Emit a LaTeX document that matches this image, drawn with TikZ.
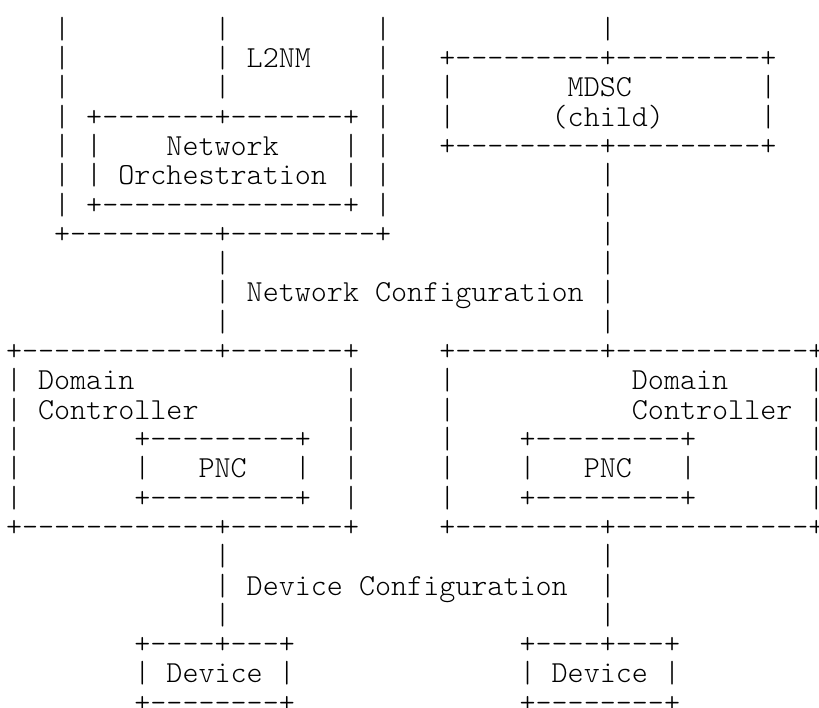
\documentclass[tikz,border=0pt]{standalone}
\usetikzlibrary{positioning}

\tikzset{
  asc/.style={anchor=base west, inner sep=0pt, outer sep=0pt, text depth=0pt,
    font=\ttfamily\fontseries{l}\fontsize{30.57}{29}\selectfont}
}

\begin{document}
\begin{tikzpicture}[x=1pt,y=1pt]
\useasboundingbox (0,0) rectangle (819,707);

\node[asc] (l1)  at (6,668.7) {~~~|~~~~~~~~~|~~~~~~~~~|~~~~~~~~~~~~~|}; %1
\node[asc] (l2)  at (6,639.4) {~~~|~~~~~~~~~|~L2NM~~~~|~~~+---------+---------+}; %2
\node[asc] (l3)  at (6,610.1) {~~~|~~~~~~~~~|~~~~~~~~~|~~~|~~~~~~~MDSC~~~~~~~~|}; %3
\node[asc] (l4)  at (6,580.8) {~~~|~+-------+-------+~|~~~|~~~~~~(child)~~~~~~|}; %4
\node[asc] (l5)  at (6,551.5) {~~~|~|~~~~Network~~~~|~|~~~+---------+---------+}; %5
\node[asc] (l6)  at (6,522.2) {~~~|~|~Orchestration~|~|~~~~~~~~~~~~~|}; %6
\node[asc] (l7)  at (6,492.9) {~~~|~+---------------+~|~~~~~~~~~~~~~|}; %7
\node[asc] (l8)  at (6,463.6) {~~~+---------+---------+~~~~~~~~~~~~~|}; %8
\node[asc] (l9)  at (6,434.3) {~~~~~~~~~~~~~|~~~~~~~~~~~~~~~~~~~~~~~|}; %9
\node[asc] (l10) at (6,405.0) {~~~~~~~~~~~~~|~Network~Configuration~|}; %10
\node[asc] (l11) at (6,375.7) {~~~~~~~~~~~~~|~~~~~~~~~~~~~~~~~~~~~~~|}; %11

\node[asc] (l12) at (6,346.4) {+------------+-------+~~~~~+---------+------------+}; %12
\node[asc] (l13) at (6,317.1) {|~Domain~~~~~~~~~~~~~|~~~~~|~~~~~~~~~~~Domain~~~~~|}; %13
\node[asc] (l14) at (6,287.8) {|~Controller~~~~~~~~~|~~~~~|~~~~~~~~~~~Controller~|}; %14
\node[asc] (l15) at (6,258.5) {|~~~~~~~+---------+~~|~~~~~|~~~~+---------+~~~~~~~|}; %15
\node[asc] (l16) at (6,229.2) {|~~~~~~~|~~~PNC~~~|~~|~~~~~|~~~~|~~~PNC~~~|~~~~~~~|}; %16
\node[asc] (l17) at (6,199.9) {|~~~~~~~+---------+~~|~~~~~|~~~~+---------+~~~~~~~|}; %17
\node[asc] (l18) at (6,170.6) {+------------+-------+~~~~~+---------+------------+}; %18

\node[asc] (l19) at (6,141.3) {~~~~~~~~~~~~~|~~~~~~~~~~~~~~~~~~~~~~~|}; %19
\node[asc] (l20) at (6,112.0) {~~~~~~~~~~~~~|~Device~Configuration~~|}; %20
\node[asc] (l21) at (6,82.7)  {~~~~~~~~~~~~~|~~~~~~~~~~~~~~~~~~~~~~~|}; %21
\node[asc] (l22) at (6,53.4)  {~~~~~~~~+----+---+~~~~~~~~~~~~~~+----+---+}; %22
\node[asc] (l23) at (6,24.1)  {~~~~~~~~|~Device~|~~~~~~~~~~~~~~|~Device~|}; %23
\node[asc] (l24) at (6,-5.2)  {~~~~~~~~+--------+~~~~~~~~~~~~~~+--------+}; %24
\end{tikzpicture}
\end{document}
